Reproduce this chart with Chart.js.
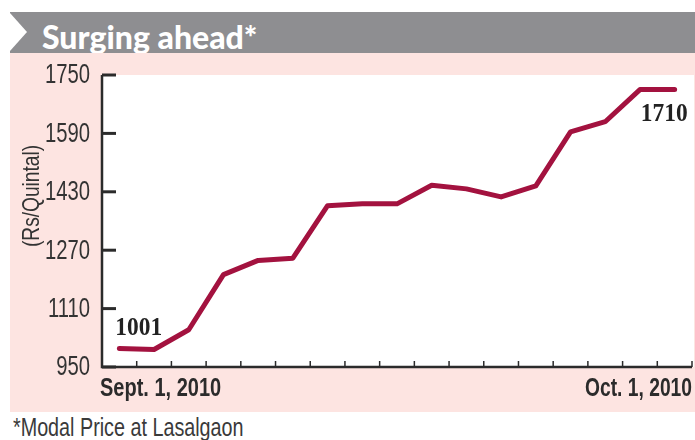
<!DOCTYPE html>
<html>
<head>
<meta charset="utf-8">
<script src="https://cdn.jsdelivr.net/npm/chart.js@4.4.0/dist/chart.umd.min.js"></script>
<style>
  body { margin: 0; background: #fff; }
  #wrap { position: relative; width: 695px; height: 440px; overflow: hidden; }
  #bar { position: absolute; left: 10px; top: 12px; width: 685px; height: 41px; background: #8e8e91; }
  #arrow { position: absolute; left: 0; top: 1px; width: 0; height: 0;
           border-top: 19px solid transparent; border-bottom: 19px solid transparent; border-left: 17px solid #fff; }
  #title { position: absolute; left: 32px; top: 5px; line-height: 32px; color: #fff;
           font: 900 32px Lato, "DejaVu Sans", sans-serif; white-space: nowrap; }
  #pink { position: absolute; left: 10px; top: 53px; width: 685px; height: 359px; background: #fde4e1; }
  #note { position: absolute; left: 13px; top: 413px; line-height: 28px; color: #3a3a3a; white-space: nowrap;
          font: 25px "Liberation Sans", Arial, sans-serif; transform: scaleX(0.79); transform-origin: 0 0; }
  canvas { position: absolute; left: 0; top: 0; }
</style>
</head>
<body>
<div id="wrap">
  <div id="bar"><div id="arrow"></div><div id="title">Surging ahead*</div></div>
  <div id="pink"></div>
  <div id="note">*Modal Price at Lasalgaon</div>
  <canvas id="chart" width="695" height="440"></canvas>
</div>
<script>
// Modal onion price, Rs/quintal
const days = ['Sep 1', 'Sep 3', 'Sep 5', 'Sep 7', 'Sep 9', 'Sep 11', 'Sep 13', 'Sep 15', 'Sep 17',
              'Sep 19', 'Sep 21', 'Sep 23', 'Sep 25', 'Sep 27', 'Sep 29', 'Sep 30', 'Oct 1'];
const prices = [1001, 998, 1052, 1203, 1242, 1248, 1392, 1397, 1397, 1448, 1438, 1416, 1446, 1594, 1622, 1710, 1710];
const yTicks = [950, 1110, 1270, 1430, 1590, 1750];
const endLabels = ['Sept. 1, 2010', 'Oct. 1, 2010'];
const yTitle = '(Rs/Quintal)';

const sans = '"Liberation Sans", Arial, sans-serif';

// no narrow font installed, so squeeze text horizontally
function narrowText(ctx, text, x, y, align, sx) {
  ctx.save();
  ctx.translate(x, y);
  ctx.scale(sx, 1);
  ctx.textAlign = align;
  ctx.fillText(text, 0, 0);
  ctx.restore();
}

// extra drawing: white plot box, axes with inside ticks, labels
const decor = {
  id: 'decor',
  beforeDatasetsDraw(chart) {
    const { ctx, chartArea: a, scales: { x, y } } = chart;
    ctx.save();
    ctx.fillStyle = '#fff';
    ctx.fillRect(a.left, a.top, a.right - a.left + 2, a.bottom - a.top);

    ctx.strokeStyle = '#2b2b2b';
    ctx.lineWidth = 2.5;
    ctx.beginPath();
    ctx.moveTo(a.left, a.top);
    ctx.lineTo(a.left, a.bottom);
    ctx.lineTo(a.right, a.bottom);
    ctx.stroke();

    // y ticks pointing inward + labels
    ctx.lineWidth = 3;
    ctx.fillStyle = '#333';
    ctx.font = '27px ' + sans;
    ctx.textBaseline = 'middle';
    yTicks.forEach(v => {
      const py = y.getPixelForValue(v);
      ctx.beginPath();
      ctx.moveTo(a.left, py);
      ctx.lineTo(a.left + 14, py);
      ctx.stroke();
      narrowText(ctx, String(v), a.left - 12, py + 1, 'right', 0.75);
    });

    // x ticks between categories
    ctx.lineWidth = 1.5;
    for (let i = 1; i <= days.length; i++) {
      const px = x.getPixelForValue(i - 0.5);
      ctx.beginPath();
      ctx.moveTo(px, a.bottom);
      ctx.lineTo(px, a.bottom - 6);
      ctx.stroke();
    }

    // date labels at both ends
    ctx.fillStyle = '#2b2b2b';
    ctx.font = 'bold 25px ' + sans;
    narrowText(ctx, endLabels[0], a.left - 2, a.bottom + 22, 'left', 0.8);
    narrowText(ctx, endLabels[1], a.right, a.bottom + 22, 'right', 0.77);

    // axis title, squeezed to about 102px long
    ctx.fillStyle = '#333';
    ctx.font = '24px ' + sans;
    const fit = 102 / ctx.measureText(yTitle).width;
    ctx.translate(32, 196);
    ctx.rotate(-Math.PI / 2);
    narrowText(ctx, yTitle, 0, 0, 'center', fit);
    ctx.restore();
  },
  afterDatasetsDraw(chart) {
    const { ctx } = chart;
    const pts = chart.getDatasetMeta(0).data;
    const first = pts[0], last = pts[pts.length - 1];
    ctx.save();
    ctx.fillStyle = '#222';
    ctx.font = 'bold 26px "Liberation Serif", serif';
    ctx.textBaseline = 'middle';
    narrowText(ctx, String(prices[0]), first.x - 4, first.y - 20, 'left', 0.9);
    narrowText(ctx, String(prices[prices.length - 1]), last.x + 13, last.y + 25, 'right', 0.9);
    ctx.restore();
  }
};

new Chart(document.getElementById('chart'), {
  type: 'line',
  data: {
    labels: days,
    datasets: [{
      data: prices,
      borderColor: '#a3123f',
      borderWidth: 5,
      borderJoinStyle: 'round',
      borderCapStyle: 'round',
      pointRadius: 0,
      tension: 0
    }]
  },
  options: {
    responsive: false,
    animation: false,
    layout: { padding: { top: 75, right: 3, bottom: 73, left: 102 } },
    plugins: { legend: { display: false }, tooltip: { enabled: false } },
    scales: {
      x: { type: 'category', offset: true, display: false },
      y: { min: 950, max: 1750, display: false }
    }
  },
  plugins: [decor]
});
</script>
</body>
</html>
